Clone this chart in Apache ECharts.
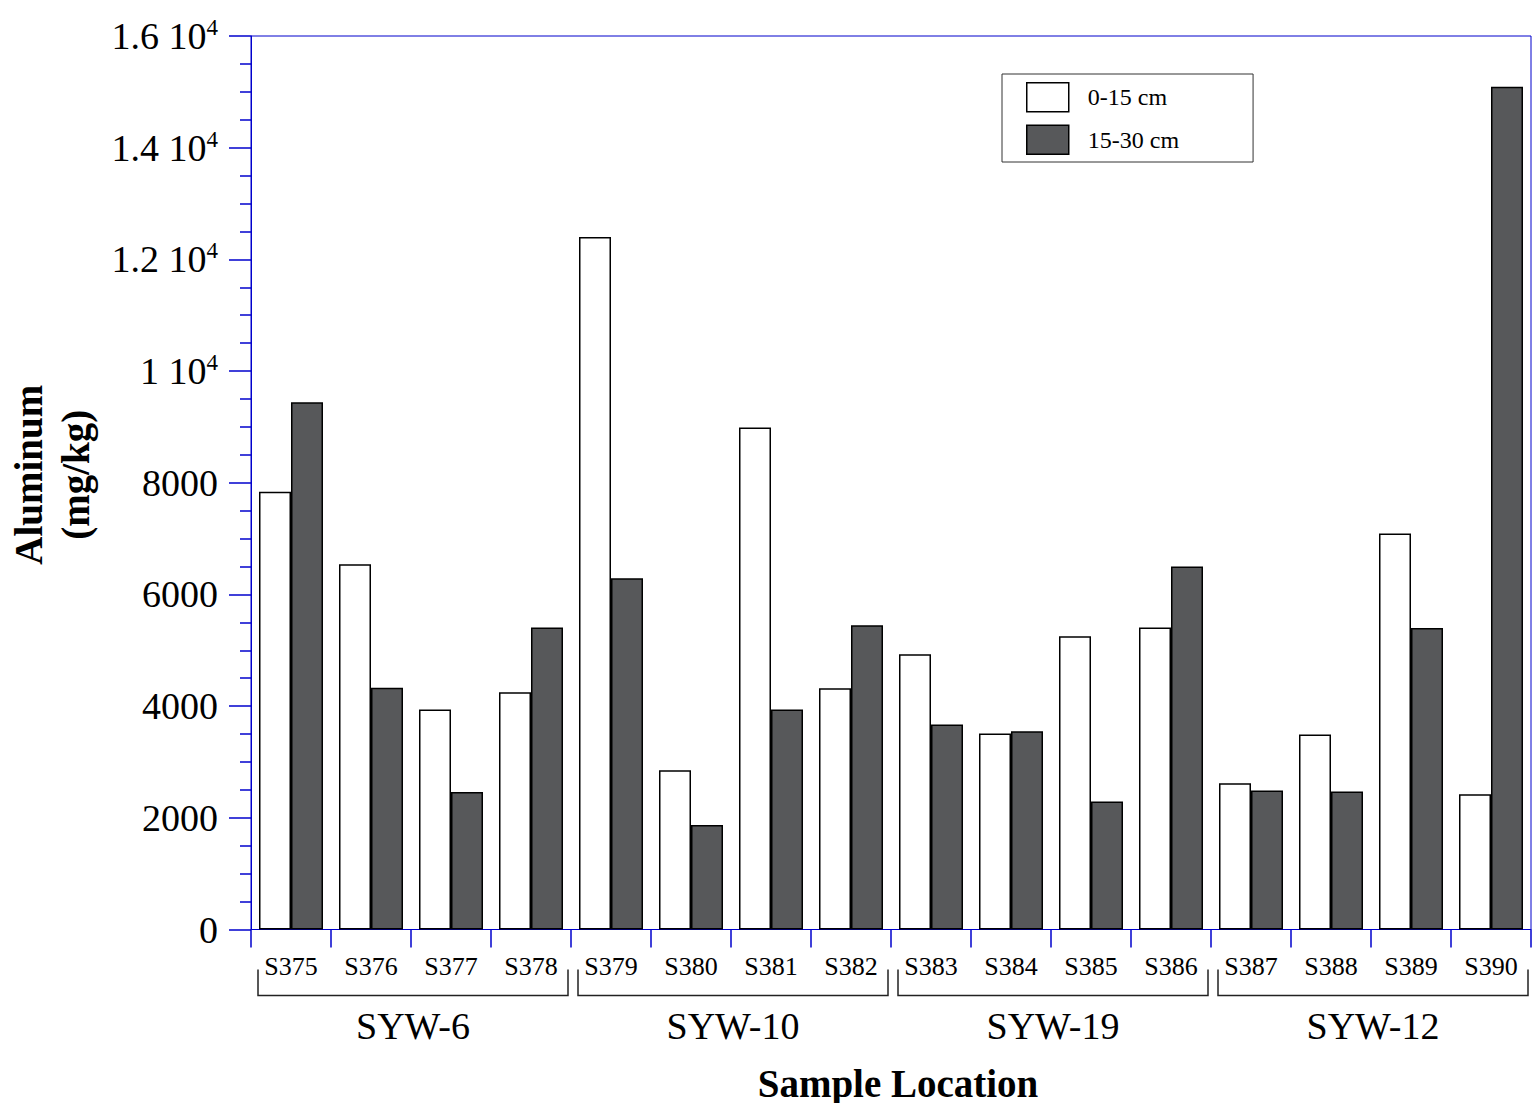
<!DOCTYPE html>
<html>
<head>
<meta charset="utf-8">
<script src="https://cdn.jsdelivr.net/npm/echarts@6/dist/echarts.min.js"></script>
<style>
html,body{margin:0;padding:0;background:#fff;}
#chart{width:1534px;height:1103px;}
</style>
</head>
<body>
<div id="chart"></div>
<script>
const categories = ['S375','S376','S377','S378','S379','S380','S381','S382','S383','S384','S385','S386','S387','S388','S389','S390'];
const groups = ['SYW-6','SYW-10','SYW-19','SYW-12'];
const groupSize = 4;
const seriesNames = ['0-15 cm','15-30 cm'];
const depth0to15 = [7840, 6540, 3940, 4250, 12400, 2850, 8990, 4320, 4930, 3510, 5250, 5410, 2620, 3490, 7090, 2420];
const depth15to30 = [9440, 4330, 2460, 5410, 6290, 1870, 3940, 5450, 3670, 3550, 2290, 6500, 2490, 2470, 5400, 15090];
// tick labels: [mantissa, exponent] ; exponent empty for plain numbers
const yTickLabels = [['0',''],['2000',''],['4000',''],['6000',''],['8000',''],['1 10','4'],['1.2 10','4'],['1.4 10','4'],['1.6 10','4']];

const FONT = '"Liberation Serif","Times New Roman",serif';
const AXIS_BLUE = '#0000cc';

const chart = echarts.init(document.getElementById('chart'), null, {renderer: 'svg'});

const option = {
  backgroundColor: '#fff',
  animation: false,
  grid: {left: 251, top: 36, width: 1280, height: 893.5, show: true, borderColor: AXIS_BLUE, borderWidth: 1,
         backgroundColor: 'transparent', containLabel: false, outerBoundsMode: 'none'},
  legend: {
    orient: 'vertical',
    left: 1002, top: 74,
    data: seriesNames,
    icon: 'rect',
    itemWidth: 42, itemHeight: 29, itemGap: 12,
    padding: [8, 74, 7, 24],
    borderColor: '#333', borderWidth: 1,
    textStyle: {fontFamily: FONT, fontSize: 24, color: '#000', padding: [7, 0, 0, 14]},
    itemStyle: {borderColor: '#000', borderWidth: 1.5}
  },
  xAxis: {
    type: 'category',
    data: categories,
    axisLine: {show: true, lineStyle: {color: AXIS_BLUE, width: 1}},
    axisTick: {show: true, length: 18, lineStyle: {color: AXIS_BLUE, width: 1.5}},
    axisLabel: {fontFamily: FONT, fontSize: 26, color: '#000', margin: 24},
    name: 'Sample Location',
    nameLocation: 'middle',
    nameGap: 134,
    nameTextStyle: {fontFamily: FONT, fontSize: 39, fontWeight: 'bold', color: '#000', padding: [0, 0, 0, 14]}
  },
  yAxis: {
    type: 'value',
    min: 0, max: 16000, interval: 2000,
    axisLine: {show: true, lineStyle: {color: AXIS_BLUE, width: 1}},
    axisTick: {show: true, length: 22, lineStyle: {color: AXIS_BLUE, width: 1.5}},
    minorTick: {show: true, splitNumber: 4, length: 11, lineStyle: {color: AXIS_BLUE, width: 1.5}},
    splitLine: {show: false},
    axisLabel: {
      margin: 33,
      formatter: function (v) {
        const t = yTickLabels[Math.round(v / 2000)];
        if (!t) return '';
        return t[1] ? '{a|' + t[0] + '}{sup|' + t[1] + '}' : '{a|' + t[0] + '}';
      },
      rich: {
        a: {fontFamily: FONT, fontSize: 38, color: '#000'},
        sup: {fontFamily: FONT, fontSize: 23, color: '#000', verticalAlign: 'top', padding: [0, 0, 17, 0]}
      }
    },
    name: 'Aluminum\n(mg/kg)',
    nameLocation: 'middle',
    nameGap: 152,
    nameTextStyle: {fontFamily: FONT, fontSize: 39, fontWeight: 'bold', color: '#000', lineHeight: 47, padding: [0, 0, 0, 16]}
  },
  series: [
    {
      name: seriesNames[0], type: 'bar', data: depth0to15,
      barWidth: '40%', barGap: '0%',
      itemStyle: {color: '#ffffff', borderColor: '#000', borderWidth: 1.5}
    },
    {
      name: seriesNames[1], type: 'bar', data: depth15to30,
      barWidth: '40%', barGap: '0%',
      itemStyle: {color: '#57585a', borderColor: '#000', borderWidth: 1.5}
    }
  ]
};
chart.setOption(option);

// Group brackets and labels, positioned from the category axis scale
function drawGroups() {
  const c0 = chart.convertToPixel({xAxisIndex: 0}, 0);
  const c1 = chart.convertToPixel({xAxisIndex: 0}, 1);
  const band = c1 - c0;
  const yAxis0 = chart.convertToPixel({yAxisIndex: 0}, 0);
  const bracketY = yAxis0 + 66;
  const bracketTop = bracketY - 26;
  const elements = [];
  groups.forEach(function (g, gi) {
    const first = chart.convertToPixel({xAxisIndex: 0}, gi * groupSize);
    const last = chart.convertToPixel({xAxisIndex: 0}, gi * groupSize + groupSize - 1);
    const x1 = first - band / 2 + 7;
    const x2 = last + band / 2 - 3;
    elements.push({
      type: 'polyline',
      shape: {points: [[x1, bracketTop], [x1, bracketY], [x2, bracketY], [x2, bracketTop]]},
      style: {stroke: '#222', lineWidth: 1.5, fill: null},
      silent: true
    });
    elements.push({
      type: 'text',
      x: (first + last) / 2 + 2,
      y: bracketY + 11,
      style: {text: g, font: '38px ' + FONT, fill: '#000', textAlign: 'center', textVerticalAlign: 'top'},
      silent: true
    });
  });
  chart.setOption({graphic: {elements: elements}});
}
drawGroups();
</script>
</body>
</html>
